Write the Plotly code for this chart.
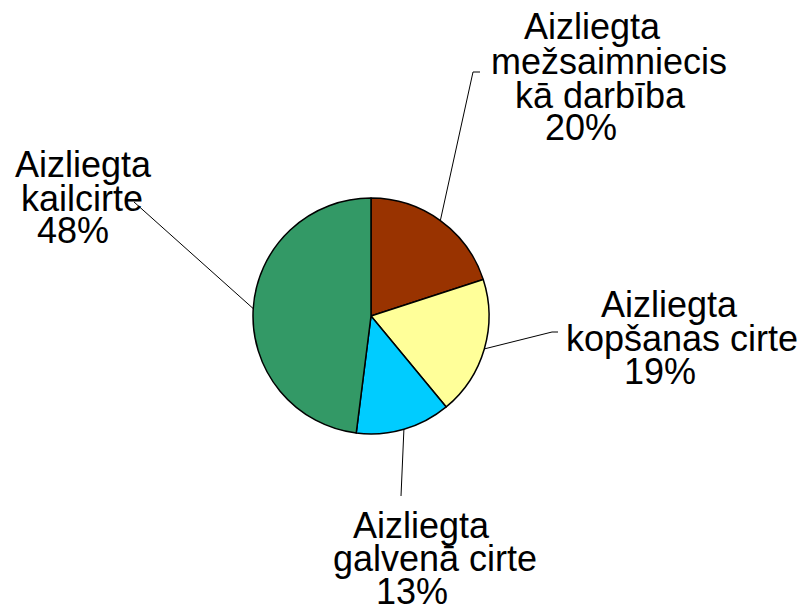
import math
import plotly.graph_objects as go

# ---- data ----
categories = [
    "Aizliegta mežsaimnieciskā darbība",
    "Aizliegta kopšanas cirte",
    "Aizliegta galvenā cirte",
    "Aizliegta kailcirte",
]
values = [20, 19, 13, 48]
label_text = [
    ["Aizliegta", "mežsaimniecis", "kā darbība"],
    ["Aizliegta", "kopšanas cirte"],
    ["Aizliegta", "galvenā cirte"],
    ["Aizliegta", "kailcirte"],
]
colors = ["#993300", "#FFFF99", "#00CCFF", "#339966"]

# ---- layout constants (window pixels) ----
OFF = 8                      # page body margin
W, H = 806 - OFF, 606 - OFF  # figure size
CX, CY, R = 371, 316, 118

# per-label: line centre x positions and baselines
label_x = [
    [592, 609, 600, 581],
    [669, 682, 660],
    [421, 435, 412],
    [83, 82, 73],
]
label_base = [
    [39, 73, 107, 140],
    [316, 350, 383],
    [537, 570, 603],
    [176, 210, 243],
]
# leader line outer points
leader_pts = [
    [(473, 72), (480, 72)],
    [(552, 332), (558, 332)],
    [(401, 496)],
    [(134, 202)],
]


def px(x):
    return (x - OFF) / W


def py(y):
    return 1 - (y - OFF) / H


fig = go.Figure(
    go.Pie(
        labels=categories,
        values=values,
        sort=False,
        direction="clockwise",
        rotation=0,
        marker=dict(colors=colors, line=dict(color="black", width=1.5)),
        textinfo="none",
        hoverinfo="label+percent",
        showlegend=False,
        domain=dict(x=[px(CX - R), px(CX + R)], y=[py(CY + R), py(CY - R)]),
    )
)

total = sum(values)
cum = 0
shapes = []
annotations = []
for i, v in enumerate(values):
    mid = (cum + v / 2) / total
    cum += v
    ang = 2 * math.pi * mid
    ex = CX + R * math.sin(ang)
    ey = CY - R * math.cos(ang)
    pts = [(ex, ey)] + leader_pts[i]
    path = "M " + " L ".join(f"{px(a)},{py(b)}" for a, b in pts)
    shapes.append(dict(type="path", xref="paper", yref="paper", path=path,
                       line=dict(color="black", width=1)))
    lines = label_text[i] + [f"{v}%"]
    for t, x, b in zip(lines, label_x[i], label_base[i]):
        annotations.append(dict(
            text=t, x=px(x), y=py(b - 12), xref="paper", yref="paper",
            xanchor="center", yanchor="middle", showarrow=False,
            font=dict(family="Liberation Sans, Arial, sans-serif", size=36, color="black"),
            borderpad=0,
        ))

fig.update_layout(
    width=W, height=H,
    margin=dict(l=0, r=0, t=0, b=0),
    paper_bgcolor="white",
    plot_bgcolor="white",
    shapes=shapes,
    annotations=annotations,
)

fig.write_html("out.html")
